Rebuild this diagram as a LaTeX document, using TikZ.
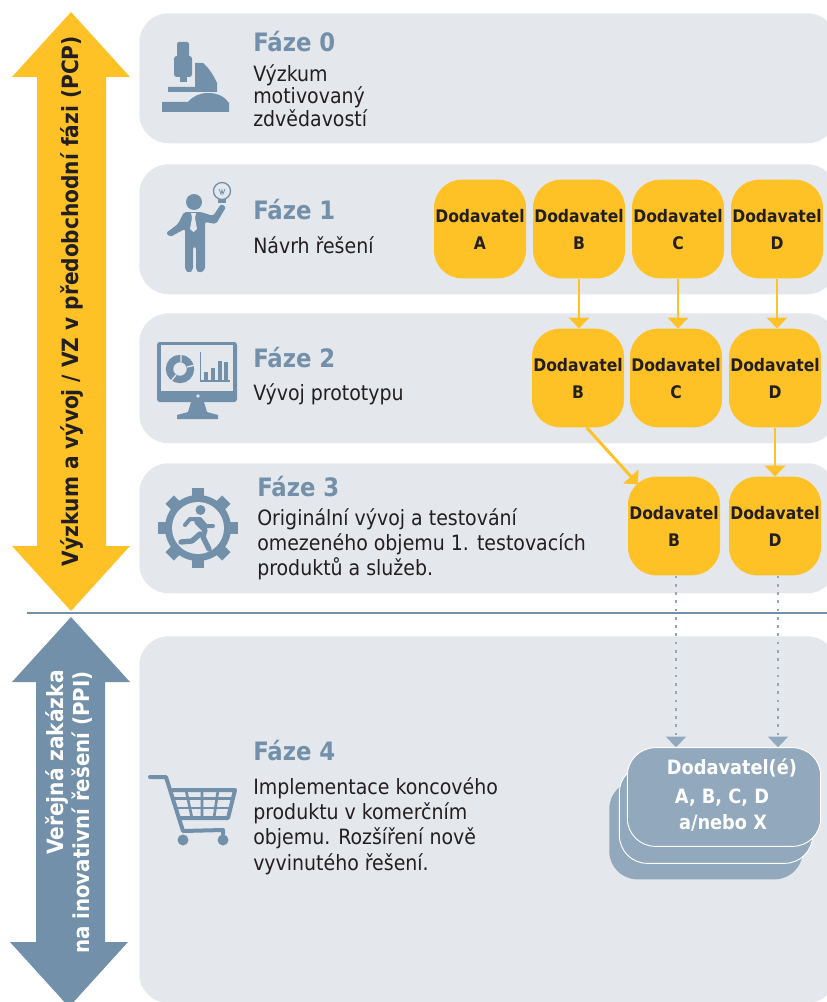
\documentclass[tikz,border=0pt]{standalone}
\usepackage{fontspec}
\setmainfont{DejaVu Sans Condensed}
\usetikzlibrary{arrows.meta}

\definecolor{panelgrey}{HTML}{E4E7EC}
\definecolor{steel}{HTML}{7290A9}
\definecolor{paleblue}{HTML}{92A8BC}
\definecolor{amber}{HTML}{FFC226}
\definecolor{inktext}{HTML}{231F20}

\tikzset{
    panel/.style={fill=panelgrey, rounded corners=22pt, anchor=north west, inner sep=0pt},
    supplier/.style={fill=amber, rounded corners=21pt, minimum width=69pt, minimum height=74pt, inner sep=0pt,
        align=center, text=inktext, font=\fontsize{13}{20.2}\selectfont\bfseries},
    stackbox/.style={fill=paleblue, draw=white, line width=0.7pt, rounded corners=21pt, minimum width=145pt, minimum height=74pt},
    phasetitle/.style={anchor=base west, inner sep=0pt, text=steel, font=\fontsize{19}{22}\selectfont\bfseries},
    phasetext/.style={anchor=north west, inner sep=0pt, align=left, text=inktext, font=\fontsize{15.8}{15.6}\selectfont},
    widetext/.style={phasetext, font=\fontsize{15.8}{19}\selectfont},
    sidetext/.style={rotate=90, anchor=base, inner sep=0pt, font=\fontsize{16.8}{18}\selectfont\bfseries},
    amberline/.style={draw=amber, line width=2.2pt, -{Triangle[width=15pt,length=8pt]}},
    dotline/.style={draw=paleblue, line width=2.2pt, dash pattern=on 2pt off 4.2pt, -{Triangle[width=15pt,length=8pt]}},
}

\begin{document}
\begin{tikzpicture}[x=0.75pt,y=-0.75pt]
\useasboundingbox (0,0) rectangle (827,1002);
\clip (0,0) rectangle (827,1002);

% Background panels
\node[panel, minimum width=523pt, minimum height=97.5pt] (phase0) at (139,13) {};
\node[panel, minimum width=523pt, minimum height=97.5pt] (phase1) at (139,164) {};
\node[panel, minimum width=523pt, minimum height=97.5pt] (phase2) at (139,313) {};
\node[panel, minimum width=523pt, minimum height=97.5pt] (phase3) at (139,463) {};
\node[panel, minimum width=523pt, minimum height=275pt] (phase4) at (139,636) {};

% Side arrows and the rule between them
\draw[steel, line width=1.9pt] (27,613) -- (827,613);
\fill[amber] (71,12) -- (130,77) -- (106,77) -- (106,546) -- (130,546) -- (71,611) -- (12,546) -- (37,546) -- (37,77) -- (12,77) -- cycle;
\fill[steel] (71,617) -- (130,682) -- (105,682) -- (105,942) -- (128,942) -- (69,1007) -- (10,942) -- (36,942) -- (36,682) -- (12,682) -- cycle;
\node[sidetext, text=inktext] (pcplabel) at (78,301) {Výzkum a vývoj / VZ v předobchodní fázi (PCP)};
\node[sidetext, text=white, anchor=base east] (ppilabel1) at (63,670) {Veřejná zakázka};
\node[sidetext, text=white, anchor=base east, font=\fontsize{16.5}{18}\selectfont\bfseries] (ppilabel2) at (89,671) {na inovativní řešení (PPI)};

% Phase titles and descriptions
\foreach \nm/\x/\y/\lab in {t0/253/52/Fáze 0, t1/253/219/Fáze 1, t2/253/367/Fáze 2, t3/257/496/Fáze 3, t4/253/760/Fáze 4}{
    \node[phasetitle] (\nm) at (\x,\y) {\lab};
}
\node[phasetext] (desc0) at (253,64) {Výzkum\\motivovaný\\zdvědavostí};
\node[phasetext] (desc1) at (253,236) {Návrh řešení};
\node[phasetext] (desc2) at (253,383) {Vývoj prototypu};
\node[widetext] (desc3) at (257,508) {Originální vývoj a testování\\omezeného objemu 1. testovacích\\produktů a služeb.};
\node[widetext] (desc4) at (253,777) {Implementace koncového\\produktu v komerčním\\objemu. Rozšíření nově\\vyvinutého řešení.};

% Suppliers
\foreach \nm/\x/\y/\lab in {a1/480/229/A, b1/579/229/B, c1/678/229/C, d1/777/229/D,
        b2/578/378/B, c2/676/378/C, d2/775/378/D, b3/674/526/B, d3/775/526/D}{
    \node[supplier] (\nm) at (\x,\y) {Dodavatel\\\smash{\lab}\vphantom{D}};
}

% Stack of final suppliers
\node[stackbox, draw=none] (stack3) at (706,830) {};
\node[stackbox] (stack2) at (716,814) {};
\node[stackbox] (stack1) at (724,797) {};
\foreach \nm/\x/\y/\lab in {s1/732/774/{Dodavatel(é)}, s2/722/803/{A, B, C, D}, s3/723/829/{a/nebo X}}{
    \node[anchor=base, inner sep=0pt, text=white, font=\fontsize{14.8}{16}\selectfont\bfseries] (\nm) at (\x,\y) {\lab};
}

% Connectors
\draw[amberline] (b1.south) -- (b1.south |- b2.north);
\draw[amberline] (c1.south) -- (c1.south |- c2.north);
\draw[amberline] (d1.south) -- (d1.south |- d2.north);
\draw[amberline] (d2.south) -- (d3.north);
\draw[amberline] ([xshift=6.5pt]b2.south) -- ([xshift=-27pt,yshift=-6pt]b3.north);
\draw[dotline] ([xshift=1.5pt]b3.south) -- ([xshift=-36pt]stack1.north);
\draw[dotline] ([xshift=2.25pt]d3.south) -- ([xshift=40.5pt]stack1.north);

% Microscope
\begin{scope}[steel]
\fill[rounded corners=1.5pt] (177,42) rectangle (189,60);
\fill[rounded corners=2pt] (174,56) rectangle (192,77);
\fill (180,76) rectangle (187,82);
\fill (195,63) -- (203,63) .. controls (209,68) and (214,76) .. (217,83) -- (217,92) -- (168,92) -- (168,87) -- (195,87) -- cycle;
\fill (188,102) .. controls (193,96) and (200,93) .. (208,93) .. controls (218,93) and (225,97) .. (229,103) -- (229,112) -- (162,112) -- (162,102) -- cycle;
\end{scope}

% Man with the bulb
\begin{scope}[steel]
\fill (194,202) circle (8);
\fill[rounded corners=1.5pt] (184,212) -- (201,212) -- (213,216) -- (221,204) -- (226,207) -- (216,224) -- (205,222) -- (205,245) -- (205,270) -- (199,273) -- (196,270) -- (196,247) -- (193,247) -- (193,270) -- (189,273) -- (185,270) -- (185,229) -- (170,237) -- (166,233) -- (178,224) -- cycle;
\fill[panelgrey] (191,213) -- (196,213) -- (195,218) -- (197,229) -- (193.5,232) -- (190,229) -- (192,218) -- cycle;
\draw[line width=1pt] (222,191) circle (8.5);
\fill (218,199) rectangle (226,203);
\draw[line width=0.6pt] (219,189) -- (221,194) -- (222,190) -- (223,194) -- (225,189);
\end{scope}

% Monitor with charts
\begin{scope}[steel]
\fill[rounded corners=2pt] (157,342) rectangle (237,402);
\fill[panelgrey] (161,345) rectangle (233,391);
\fill[panelgrey] (198,396) circle (1.8);
\fill (191,402) -- (204,402) -- (207,412) -- (218,415) -- (218,419) -- (177,419) -- (177,415) -- (188,412) -- cycle;
\draw[line width=5.5pt] (180,369) circle (10.5);
\draw[panelgrey, line width=1pt] (181,354) -- (181,362) (195,365) -- (187,367) (171,381) -- (176,375);
\fill (200,352) rectangle (201,381);
\fill (200,380) rectangle (230,381.5);
\foreach \bx/\btop in {204/372, 211/368, 218/361, 224/362}{
    \fill (\bx,\btop) rectangle (\bx+4,380);
}
\end{scope}

% Gear with the runner
\begin{scope}[steel]
\fill (198,528) circle (33);
\foreach \ang in {0,45,...,315}{
    \fill[rotate around={\ang:(198,528)}] (192,488) rectangle (204,500);
}
\fill[panelgrey] (198,528) circle (26);
\fill (200.5,510) circle (5);
\draw[line width=4pt, line cap=round, line join=round] (197,522) -- (205,530) -- (203,537) -- (209,549);
\draw[line width=4pt, line cap=round, line join=round] (200,534) -- (192,541) -- (181,542);
\draw[line width=3pt, line cap=round, line join=round] (185,525) -- (190,519) -- (200,519) -- (206,526) -- (213,526);
\end{scope}

% Shopping cart
\begin{scope}[steel]
\draw[line width=3pt, line cap=round, line join=round] (150,777) -- (166,777) -- (183,831) -- (223,830) -- (223,834);
\draw[line width=3pt, line join=round] (172,790) -- (235,790) -- (228,818) -- (180,818);
\draw[line width=2pt] (174,798.5) -- (232,798.5) (177,808) -- (230,808);
\draw[line width=2pt] (186,790) -- (192,818) (202,790) -- (202,818) (218,790) -- (214,818);
\fill (183,840) circle (5.5);
\fill (223,840) circle (5.5);
\end{scope}

\end{tikzpicture}
\end{document}
